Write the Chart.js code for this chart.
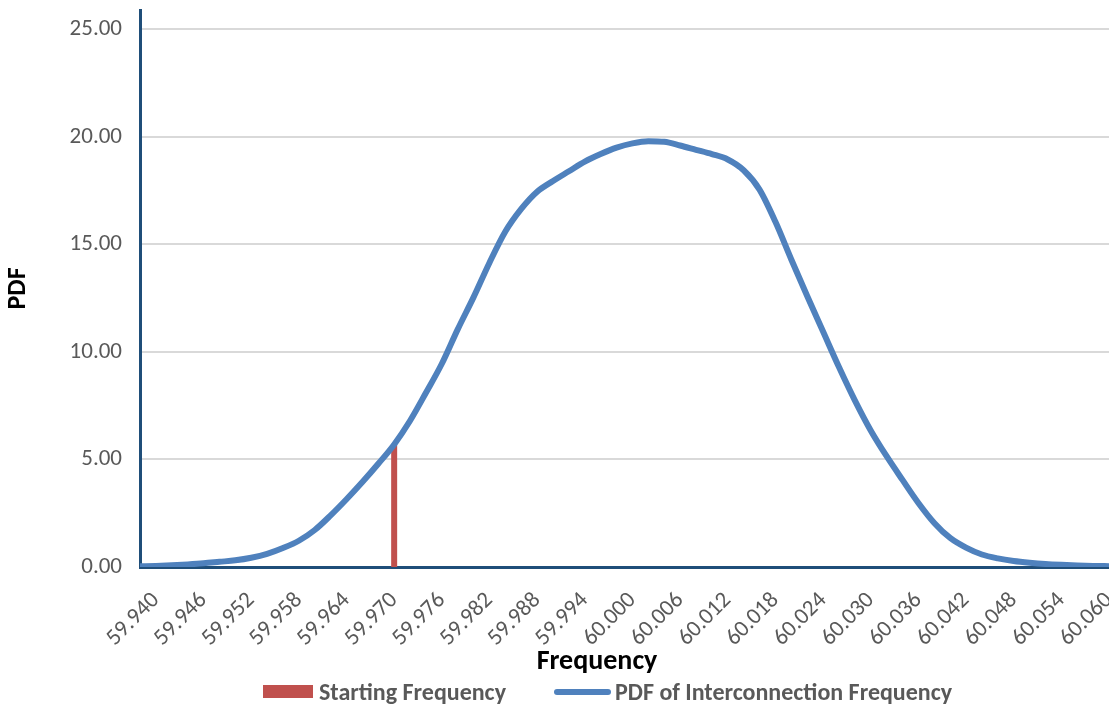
<!DOCTYPE html>
<html>
<head>
<meta charset="utf-8">
<script src="https://cdn.jsdelivr.net/npm/chart.js@4.4.1/dist/chart.umd.min.js"></script>
<style>
    html, body { margin: 0; padding: 0; background: #fff; overflow: hidden; }
    #wrap { position: relative; width: 1109px; height: 707px; }
    #xTitle {
        position: absolute; left: 597px; top: 642px; transform: translateX(-50%);
        font: bold 28px Carlito, Lato, sans-serif; color: #000; white-space: nowrap;
    }
    #legend {
        position: absolute; left: 263px; top: 677px; display: flex; align-items: center;
        font: bold 24px Carlito, Lato, sans-serif; color: #595959; white-space: nowrap;
    }
    .swatch-bar { width: 50px; height: 13px; background: #c0504d; margin-right: 6px; }
    .swatch-line { width: 57px; height: 6px; border-radius: 3px; background: #4f81bd; margin: 0 4px 0 48px; }
</style>
</head>
<body>
<div id="wrap">
    <canvas id="chartPdf" width="1109" height="707"></canvas>
    <div id="xTitle">Frequency</div>
    <div id="legend">
        <span class="swatch-bar"></span><span>Starting Frequency</span>
        <span class="swatch-line"></span><span>PDF of Interconnection Frequency</span>
    </div>
</div>
<script>
// frequency (Hz) sampled along the curve
const freqs = [
    59.938, 59.940, 59.942, 59.944, 59.946, 59.948, 59.950, 59.952, 59.954, 59.956,
    59.958, 59.960, 59.962, 59.964, 59.966, 59.968, 59.970, 59.972, 59.974, 59.976,
    59.978, 59.980, 59.982, 59.984, 59.986, 59.988, 59.990, 59.992, 59.994, 59.996,
    59.998, 60.000, 60.002, 60.004, 60.006, 60.008, 60.010, 60.012, 60.014, 60.016,
    60.018, 60.020, 60.022, 60.024, 60.026, 60.028, 60.030, 60.032, 60.034, 60.036,
    60.038, 60.040, 60.042, 60.044, 60.046, 60.048, 60.050, 60.052, 60.054, 60.056,
    60.058, 60.060
]
// PDF of interconnection frequency
const pdfValues = [
    0.03, 0.05, 0.08, 0.12, 0.17, 0.24, 0.31, 0.43, 0.61, 0.88,
    1.22, 1.72, 2.40, 3.15, 3.95, 4.80, 5.70, 6.80, 8.10, 9.45,
    11.05, 12.55, 14.15, 15.60, 16.65, 17.45, 17.95, 18.40, 18.85, 19.20,
    19.50, 19.70, 19.80, 19.77, 19.60, 19.40, 19.20, 18.95, 18.45, 17.55,
    16.05, 14.30, 12.60, 10.95, 9.30, 7.75, 6.35, 5.15, 4.05, 2.98,
    2.05, 1.35, 0.90, 0.58, 0.40, 0.28, 0.20, 0.14, 0.10, 0.07,
    0.05, 0.04
]
// starting frequency marker
const startFreq = 59.970
const startPdf = 5.67

const xTicks = [
    59.940, 59.946, 59.952, 59.958, 59.964, 59.970, 59.976, 59.982, 59.988, 59.994,
    60.000, 60.006, 60.012, 60.018, 60.024, 60.030, 60.036, 60.042, 60.048, 60.054, 60.060
]
const yTicks = [0, 5, 10, 15, 20, 25]

const fontFamily = 'Carlito, Lato, sans-serif'
const axisBlue = '#1f4e79'

new Chart(document.getElementById('chartPdf'), {
    type: 'line',
    data: {
        datasets: [
            {
                label: 'PDF of Interconnection Frequency',
                data: freqs.map((f, i) => ({ x: f, y: pdfValues[i] })),
                borderColor: '#4f81bd',
                borderWidth: 6,
                pointRadius: 0,
                cubicInterpolationMode: 'monotone',
                order: 0
            },
            {
                label: 'Starting Frequency',
                data: [{ x: startFreq, y: 0 }, { x: startFreq, y: startPdf }],
                borderColor: '#c0504d',
                borderWidth: 6,
                borderCapStyle: 'butt',
                pointRadius: 0,
                order: 1
            }
        ]
    },
    options: {
        responsive: false,
        animation: false,
        layout: { padding: { top: 10, right: 0, bottom: 0, left: 0 } },
        scales: {
            x: {
                type: 'linear',
                min: 59.938,
                max: 60.060,
                afterBuildTicks: s => { s.ticks = xTicks.map(v => ({ value: v })) },
                afterFit: s => { s.height = 140; s.paddingLeft = 0; s.paddingRight = 0 },
                grid: { display: false },
                border: { color: axisBlue, width: 3 },
                ticks: {
                    autoSkip: false, minRotation: 45, maxRotation: 45, padding: 12,
                    color: '#595959', font: { family: fontFamily, size: 23 },
                    callback: v => v.toFixed(3)
                }
            },
            y: {
                min: 0,
                max: 25.9,
                afterBuildTicks: s => { s.ticks = yTicks.map(v => ({ value: v })) },
                afterFit: s => { s.width = 140; s.paddingTop = 0; s.paddingBottom = 0 },
                grid: { color: '#d9d9d9', lineWidth: 2, drawTicks: false },
                border: { color: axisBlue, width: 3 },
                ticks: {
                    padding: 18, color: '#595959', font: { family: fontFamily, size: 23 },
                    callback: v => v.toFixed(2)
                },
                title: {
                    display: true, text: 'PDF', color: '#000', padding: { top: 3, bottom: 0 },
                    font: { family: fontFamily, size: 26, weight: 'bold' }
                }
            }
        },
        plugins: {
            legend: { display: false },
            tooltip: { enabled: false }
        }
    }
})
</script>
</body>
</html>
